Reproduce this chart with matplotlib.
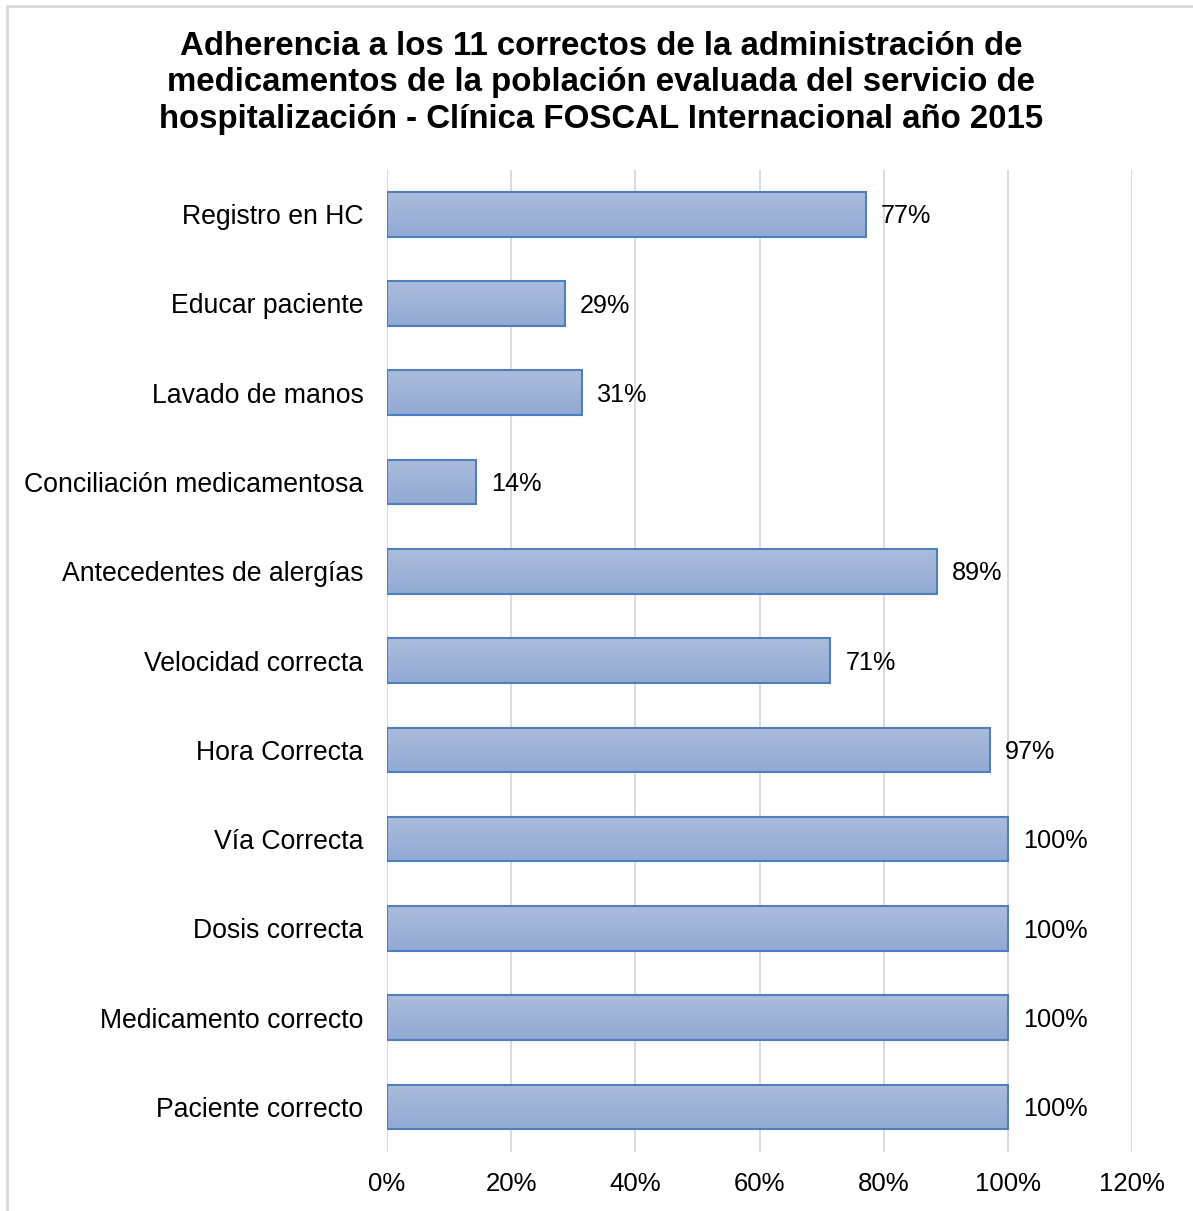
import numpy as np
import matplotlib
matplotlib.use("Agg")
import matplotlib.pyplot as plt
from matplotlib.patches import Rectangle
from matplotlib.colors import LinearSegmentedColormap

# Data (top to bottom as shown in the chart).
categories = ["Registro en HC", "Educar paciente", "Lavado de manos",
              "Conciliación medicamentosa", "Antecedentes de alergías",
              "Velocidad correcta", "Hora Correcta", "Vía Correcta",
              "Dosis correcta", "Medicamento correcto", "Paciente correcto"]
values = [77.1, 28.6, 31.4, 14.3, 88.6, 71.4, 97.1, 100, 100, 100, 100]
xticks = [0, 20, 40, 60, 80, 100, 120]
title = ("Adherencia a los 11 correctos de la administración de\n"
         "medicamentos de la población evaluada del servicio de\n"
         "hospitalización - Clínica FOSCAL Internacional año 2015")

plt.rcParams['font.family'] = ['Liberation Sans', 'DejaVu Sans']

fig = plt.figure(figsize=(11.93, 12.11), dpi=100)
ax = fig.add_axes([0.3244, 0.049, 0.6245, 0.811])

# Reverse so first category is on top.
y_pos = np.arange(len(categories))[::-1]
bars = ax.barh(y_pos, values, height=0.5, color="none",
               edgecolor="#4F7FC0", linewidth=1.5, zorder=3)

# Gradient fill inside each bar.
cmap = LinearSegmentedColormap.from_list("bar_grad", ["#ABBDDC", "#91A9D4"])
grad = np.linspace(0, 1, 256).reshape(-1, 1)
for b in bars:
  x0, y0 = b.get_x(), b.get_y()
  w, h = b.get_width(), b.get_height()
  ax.imshow(grad, cmap=cmap, aspect="auto", origin="upper",
            extent=(x0, x0 + w, y0, y0 + h), zorder=2)

# Value labels.
for v, y in zip(values, y_pos):
  ax.annotate(f"{v:.0f}%", xy=(v, y), xytext=(11, -1.5), textcoords="offset points",
              va="center", ha="left", fontsize=18.2, color="#000000")

ax.set_xlim(0, 120)
ax.set_ylim(-0.5, len(categories) - 0.5)
ax.set_xticks(xticks)
ax.set_xticklabels([f"{t}%" for t in xticks], fontsize=18.5)
ax.set_yticks(y_pos)
ax.set_yticklabels(categories, fontsize=19.2)
ax.tick_params(axis="both", length=0)
ax.tick_params(axis="y", pad=17)
ax.tick_params(axis="x", pad=15)
ax.grid(axis="x", color="#D9D9D9", linewidth=1.3, zorder=0)
ax.set_axisbelow(True)
for s in ax.spines.values():
  s.set_visible(False)

fig.text(0.504, 0.9315, title, ha="center", va="center", fontsize=23.8,
         fontweight="bold", linespacing=1.23)

# Outer chart frame.
fig.patches.append(Rectangle((7 / 1193, -0.01), 1.02, 1 - 6 / 1211 + 0.01,
                             transform=fig.transFigure, fill=False,
                             edgecolor="#D9D9D9", linewidth=2))

fig.savefig("out.png", dpi=100)
